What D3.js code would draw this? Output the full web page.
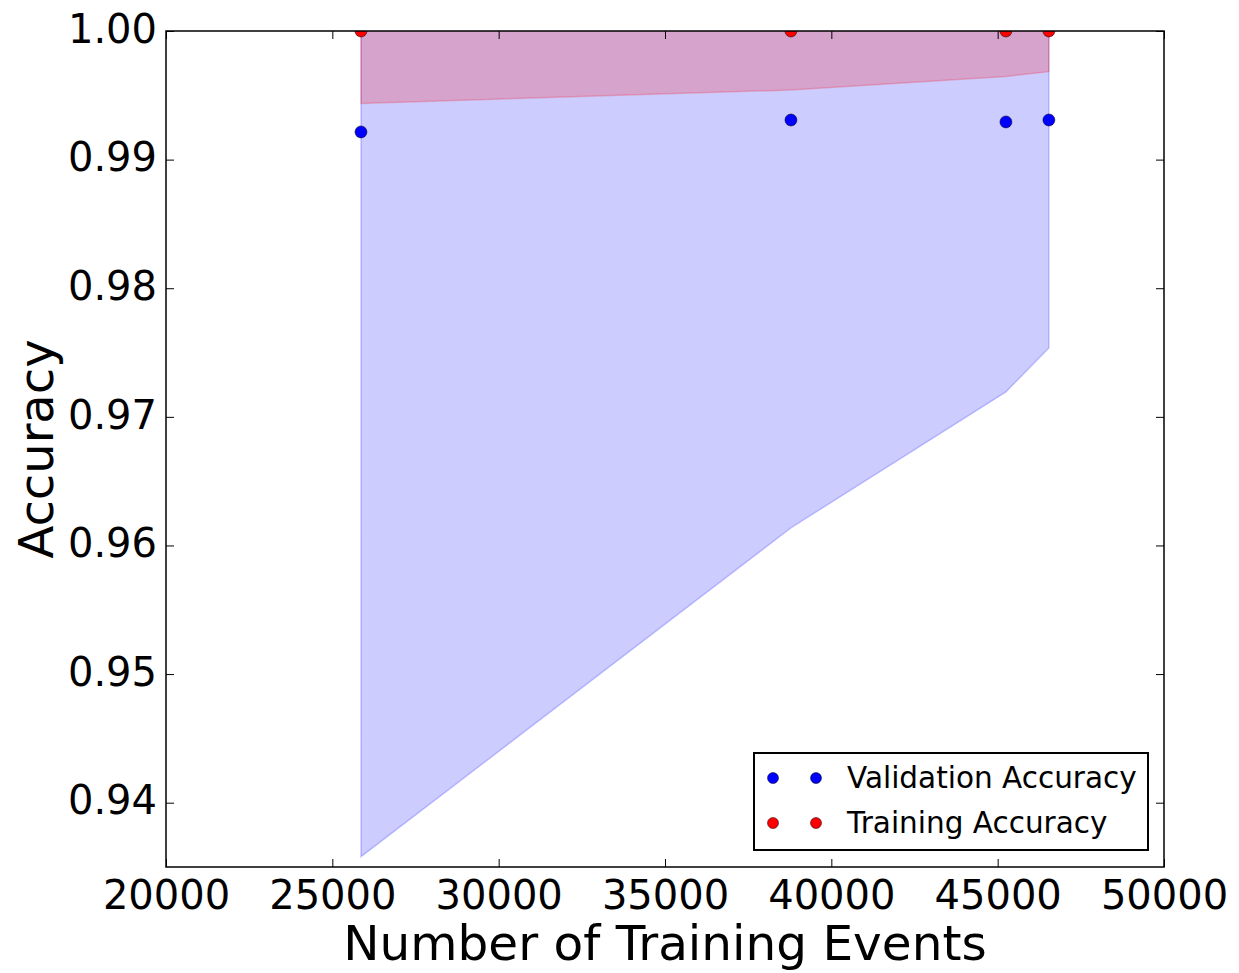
<!DOCTYPE html>
<html><head><meta charset="utf-8">
<script src="https://cdn.jsdelivr.net/npm/d3@7"></script>
<style>body{margin:0;background:#fff;} svg{display:block;font-family:"DejaVu Sans",sans-serif;}</style>
</head><body>
<svg id="c" width="1239" height="973"></svg>
<script>
const trainSizes = [25861, 38786, 45248, 46540];
const valMean = [0.99215, 0.99308, 0.99293, 0.99308];
const valStd = [0.05635, 0.03171, 0.02099, 0.01772];
const trainMean = [1.0, 1.0, 1.0, 1.0];
const trainStd = [0.00563, 0.00459, 0.00353, 0.00316];
const xTicks = [20000, 25000, 30000, 35000, 40000, 45000, 50000];
const yTicks = [0.94, 0.95, 0.96, 0.97, 0.98, 0.99, 1.00];
const legendLabels = ["Validation Accuracy", "Training Accuracy"];

const L = 166, R = 1164, T = 31, B = 867;
const svg = d3.select("#c");
const x = d3.scaleLinear().domain([20000, 50000]).range([L, R]);
const y = d3.scaleLinear().domain([0.935, 1.0]).range([B, T]);

svg.append("defs").append("clipPath").attr("id","clip")
  .append("rect").attr("x",L).attr("y",T).attr("width",R-L).attr("height",B-T);
const g = svg.append("g").attr("clip-path","url(#clip)");

const valData = trainSizes.map((s,i)=>({s, m: valMean[i], sd: valStd[i]}));
const trData = trainSizes.map((s,i)=>({s, m: trainMean[i], sd: trainStd[i]}));
const area = d3.area().x(d=>x(d.s)).y0(d=>y(d.m-d.sd)).y1(d=>y(d.m+d.sd));

g.append("path").datum(valData).attr("d",area)
  .attr("fill","rgba(0,0,255,0.2)").attr("stroke","rgba(0,0,255,0.2)").attr("stroke-width",1.5);
g.append("path").datum(trData).attr("d",area)
  .attr("fill","rgba(255,0,0,0.2)").attr("stroke","rgba(255,0,0,0.2)").attr("stroke-width",1.5);

g.selectAll("circle.tr").data(trData).enter().append("circle")
  .attr("cx",d=>x(d.s)).attr("cy",d=>y(d.m)).attr("r",6)
  .attr("fill","#ff0000").attr("stroke","#000").attr("stroke-width",0.5);
g.selectAll("circle.va").data(valData).enter().append("circle")
  .attr("cx",d=>x(d.s)).attr("cy",d=>y(d.m)).attr("r",6)
  .attr("fill","#0000ff").attr("stroke","#000").attr("stroke-width",0.5);

// axes
const fs = 40;
const axB = d3.axisBottom(x).tickValues(xTicks).tickSizeInner(-8).tickSizeOuter(0).tickPadding(14).tickFormat(d3.format("d"));
const axT = d3.axisTop(x).tickValues(xTicks).tickSizeInner(-8).tickSizeOuter(0).tickFormat("");
const axLf = d3.axisLeft(y).tickValues(yTicks).tickSizeInner(-8).tickSizeOuter(0).tickPadding(9).tickFormat(d3.format(".2f"));
const axRt = d3.axisRight(y).tickValues(yTicks).tickSizeInner(-8).tickSizeOuter(0).tickFormat("");

function style(sel){
  sel.select(".domain").remove();
  sel.selectAll(".tick line").attr("stroke","#000").attr("stroke-width",1);
  sel.selectAll(".tick text").attr("fill","#000").attr("font-size",fs).attr("font-family","DejaVu Sans");
}
svg.append("g").attr("transform",`translate(0,${B})`).call(axB).call(style);
svg.append("g").attr("transform",`translate(0,${T})`).call(axT).call(style);
svg.append("g").attr("transform",`translate(${L},0)`).call(axLf).call(style)
  .selectAll(".tick text").attr("dy","0.28em");
svg.append("g").attr("transform",`translate(${R},0)`).call(axRt).call(style);

svg.append("rect").attr("x",L).attr("y",T).attr("width",R-L).attr("height",B-T)
  .attr("fill","none").attr("stroke","#000").attr("stroke-width",1.5);

svg.append("text").attr("x",(L+R)/2).attr("y",960).attr("text-anchor","middle")
  .attr("font-size",48.5).attr("fill","#000").text("Number of Training Events");
svg.append("text").attr("transform",`translate(53,${(T+B)/2}) rotate(-90)`).attr("text-anchor","middle")
  .attr("font-size",48).attr("fill","#000").text("Accuracy");

// legend
const lg = svg.append("g");
lg.append("rect").attr("x",754).attr("y",753).attr("width",394).attr("height",97)
  .attr("fill","#fff").attr("stroke","#000").attr("stroke-width",2);
const colors = ["#0000ff","#ff0000"];
legendLabels.forEach((lab,i)=>{
  const yy = 778 + i*45;
  [773, 816].forEach(xx=>{
    lg.append("circle").attr("cx",xx).attr("cy",yy).attr("r",5.5)
      .attr("fill",colors[i]).attr("stroke","#000").attr("stroke-width",0.5);
  });
  lg.append("text").attr("x",847).attr("y",yy+10).attr("font-size",29.5).attr("fill","#000").text(lab);
});
</script>
</body></html>
